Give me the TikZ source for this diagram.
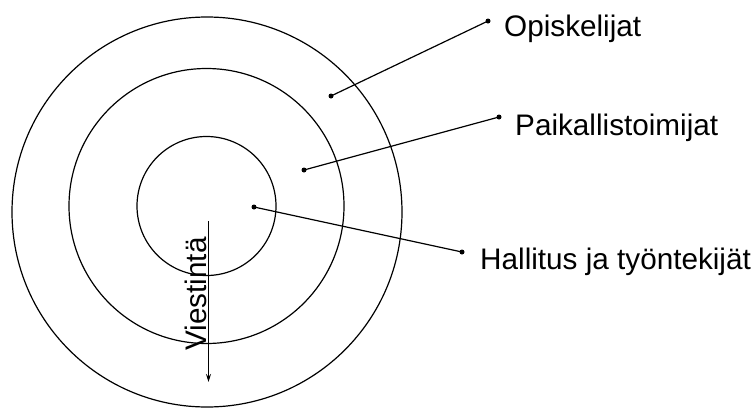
\documentclass[tikz,border=0pt]{standalone}
\usepackage{fontspec}
\setmainfont{Liberation Sans}
\usetikzlibrary{arrows.meta}
\begin{document}
\begin{tikzpicture}[x=1pt,y=-1pt,
  ring/.style={draw=black, line width=1.2pt},
  pin/.style={draw=black, line width=1.2pt},
  dotmark/.style={circle, fill=black, inner sep=0pt, minimum size=5pt},
  lab/.style={anchor=base west, inner sep=0pt, font=\fontsize{29.7}{34}\selectfont}]
\useasboundingbox (0,0) rectangle (756,408);
% circles
\draw[ring] (207,212) circle (195);
\draw[ring] (206.5,206) circle (137.5);
\draw[ring] (206.5,206) circle (69.5);
% dots
\node[dotmark] (d1) at (331,96) {};
\node[dotmark] (e1) at (488,21) {};
\node[dotmark] (d2) at (304,170) {};
\node[dotmark] (e2) at (499,117) {};
\node[dotmark] (d3) at (254,207) {};
\node[dotmark] (e3) at (462,252) {};
\draw[pin] (d1.center) -- (e1.center);
\draw[pin] (d2.center) -- (e2.center);
\draw[pin] (d3.center) -- (e3.center);
% labels
\node[lab] (l1) at (504,36) {Opiskelijat};
\node[lab] (l2) at (515,135) {Paikallistoimijat};
\node[lab] (l3) at (480,269) {Hallitus ja työntekijät};
% arrow
\coordinate (a1) at (208.5,221);
\coordinate (a2) at (208.5,382);
\draw[line width=1.2pt, -{Stealth[length=8pt,width=5pt]}] (a1) -- (a2);
\node[lab, rotate=90] (v) at (206,351) {Viestintä};
\end{tikzpicture}
\end{document}
